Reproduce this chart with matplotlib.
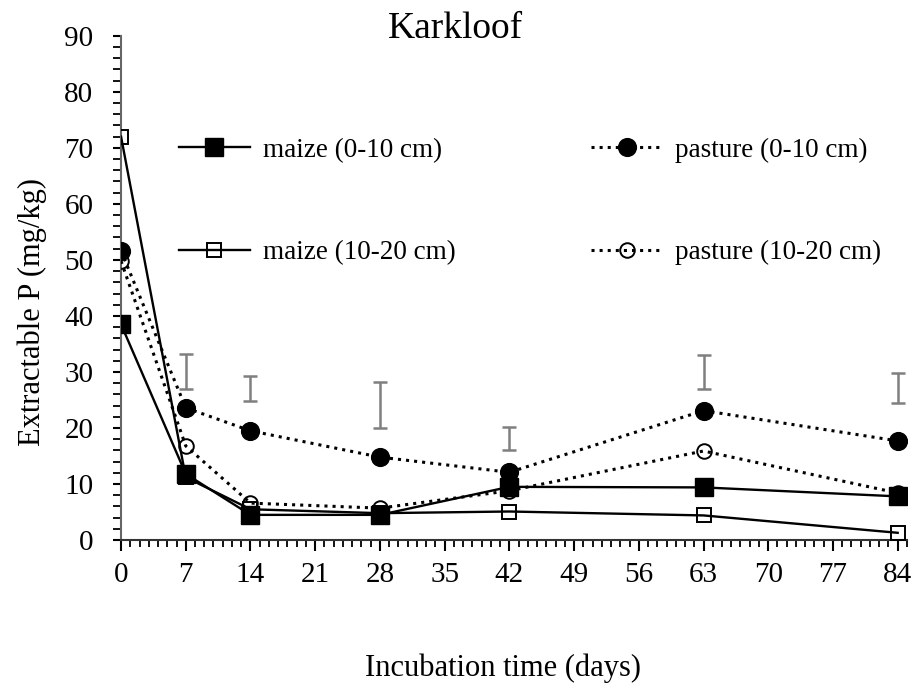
import matplotlib
matplotlib.use("Agg")
import matplotlib.pyplot as plt
from matplotlib.ticker import MultipleLocator

plt.rcParams['font.family'] = ['Liberation Serif', 'DejaVu Serif']

days = [0, 7, 14, 28, 42, 63, 84]
maize_0_10 = [38.5, 11.8, 4.5, 4.5, 9.5, 9.4, 7.8]
maize_10_20 = [72.0, 11.2, 5.5, 4.8, 5.1, 4.4, 1.3]
pasture_0_10 = [51.6, 23.6, 19.5, 14.8, 12.1, 23.1, 17.7]
pasture_10_20 = [49.8, 16.8, 6.6, 5.7, 8.8, 15.9, 8.4]

bar_days = [7, 14, 28, 42, 63, 84]
bar_low = [27.0, 24.9, 20.0, 16.1, 27.0, 24.5]
bar_high = [33.2, 29.2, 28.2, 20.1, 33.0, 29.8]

labels = ['maize (0-10 cm)', 'maize (10-20 cm)', 'pasture (0-10 cm)', 'pasture (10-20 cm)']

fig = plt.figure(figsize=(9.17, 6.88), dpi=100)
ax = fig.add_axes([0.132, 0.215, 0.857, 0.733])

ax.plot(days, maize_0_10, '-', color='black', lw=1.7, marker='s', ms=12.5,
        mfc='black', mec='black', label=labels[0], zorder=3)
ax.plot(days, maize_10_20, '-', color='black', lw=1.7, marker='s', ms=10.5,
        mfc='none', mec='black', mew=1.4, label=labels[1], zorder=3)
ax.plot(days, pasture_0_10, ':', color='black', lw=2.2, marker='o', ms=12.8,
        mfc='black', mec='black', label=labels[2], zorder=3)
ax.plot(days, pasture_10_20, ':', color='black', lw=2.2, marker='o', ms=10.5,
        mfc='none', mec='black', mew=1.4, label=labels[3], zorder=3)

centers = [(lo + hi) / 2 for lo, hi in zip(bar_low, bar_high)]
half = [(hi - lo) / 2 for lo, hi in zip(bar_low, bar_high)]
ax.errorbar(bar_days, centers, yerr=half, fmt='none', ecolor='#7f7f7f',
            elinewidth=1.8, capsize=5, capthick=1.8, zorder=2)

ax.set_xlim(0, 85)
ax.set_ylim(0, 90)
ax.xaxis.set_major_locator(MultipleLocator(7))
ax.xaxis.set_minor_locator(MultipleLocator(1))
ax.yaxis.set_major_locator(MultipleLocator(10))
ax.yaxis.set_minor_locator(MultipleLocator(2))
ax.tick_params(axis='both', which='major', direction='out', length=7, width=1.5,
               labelsize=21, colors='black')
ax.tick_params(axis='both', which='minor', direction='out', length=5, width=1.3)
ax.tick_params(axis='x', which='major', length=8, pad=8)
ax.tick_params(axis='y', which='both', length=6)
ax.tick_params(axis='y', which='major', pad=14)
ax.spines['top'].set_visible(False)
ax.spines['right'].set_visible(False)
ax.spines['left'].set_color('#666666')
ax.spines['bottom'].set_color('#333333')
ax.spines['left'].set_linewidth(1.5)
ax.spines['bottom'].set_linewidth(1.5)

fig.text(0.497, 0.945, 'Karkloof', ha='center', va='baseline', fontsize=27)
fig.text(0.035, 0.546, 'Extractable P (mg/kg)', ha='center', va='center',
         rotation=90, fontsize=22)
fig.text(0.549, 0.028, 'Incubation time (days)', ha='center', va='center', fontsize=22)

leg = ax.legend(ncol=2, loc='upper left', bbox_to_anchor=(0.043, 0.846), frameon=False,
                fontsize=19.5, labelspacing=2.85, columnspacing=5.0, handlelength=2.6,
                markerscale=1.0, handletextpad=0.5)

fig.savefig('out.png', dpi=100)
